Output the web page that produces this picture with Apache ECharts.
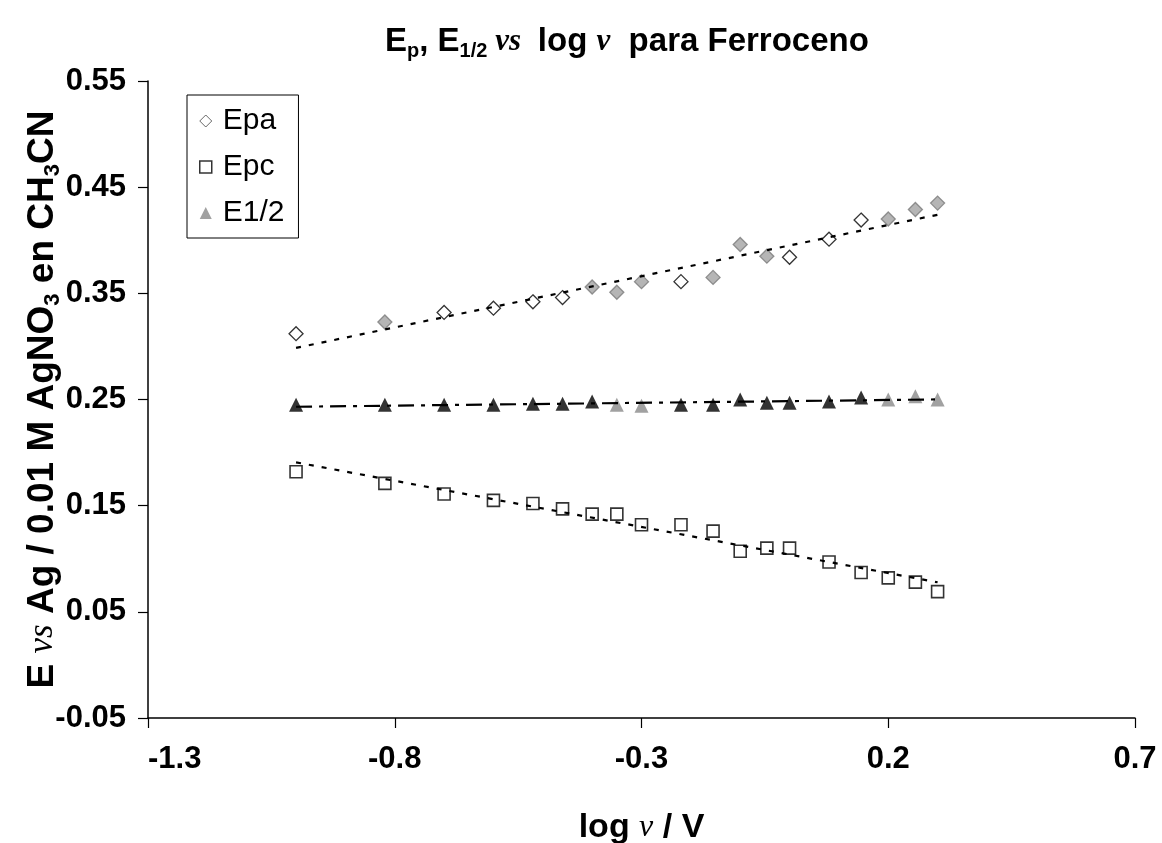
<!DOCTYPE html>
<html>
<head>
<meta charset="utf-8">
<script src="https://cdn.jsdelivr.net/npm/echarts@6/dist/echarts.min.js"></script>
<style>
  html, body { margin: 0; padding: 0; background: #fff; }
  #chart { width: 1162px; height: 843px; }
</style>
</head>
<body>
<div id="chart"></div>
<script>
// ---- data ----
const logV = [-1.0, -0.82, -0.70, -0.60, -0.52, -0.46, -0.40, -0.35, -0.30, -0.22, -0.155, -0.10, -0.046, 0.0, 0.08, 0.145, 0.20, 0.255, 0.30];
const epa  = [0.312, 0.323, 0.332, 0.336, 0.342, 0.346, 0.356, 0.351, 0.361, 0.361, 0.365, 0.396, 0.385, 0.384, 0.401, 0.419, 0.420, 0.429, 0.435];
const epc  = [0.182, 0.171, 0.161, 0.155, 0.152, 0.147, 0.142, 0.142, 0.132, 0.132, 0.126, 0.107, 0.110, 0.110, 0.097, 0.087, 0.082, 0.078, 0.069];
const e12  = [0.245, 0.245, 0.245, 0.245, 0.246, 0.246, 0.248, 0.245, 0.244, 0.245, 0.245, 0.250, 0.247, 0.247, 0.248, 0.252, 0.250, 0.253, 0.250];
const xTicks = [-1.3, -0.8, -0.3, 0.2, 0.7];
const yTicks = [-0.05, 0.05, 0.15, 0.25, 0.35, 0.45, 0.55];
const seriesNames = ['Epa', 'Epc', 'E1/2'];
// markers that appear grey-filled in the scanned figure (indices into the arrays)
const greyEpa = [1, 6, 7, 8, 10, 11, 12, 16, 17, 18];
const greyE12 = [7, 8, 16, 17, 18];

// ---- helpers ----
const SANS = "'Liberation Sans', Arial, sans-serif";
const SERIF = "'Liberation Serif', 'Times New Roman', serif";

function linFit(xs, ys) {
  const n = xs.length;
  let sx = 0, sy = 0, sxx = 0, sxy = 0;
  for (let i = 0; i < n; i++) { sx += xs[i]; sy += ys[i]; sxx += xs[i] * xs[i]; sxy += xs[i] * ys[i]; }
  const b = (n * sxy - sx * sy) / (n * sxx - sx * sx);
  const a = (sy - b * sx) / n;
  const x0 = Math.min(...xs), x1 = Math.max(...xs);
  return [[x0, a + b * x0], [x1, a + b * x1]];
}

function pts(ys, grey, greyStyle) {
  return logV.map((x, i) => {
    const d = { value: [x, ys[i]] };
    if (grey && grey.indexOf(i) >= 0) d.itemStyle = greyStyle;
    return d;
  });
}

function richSet(size) {
  return {
    b:   { fontFamily: SANS, fontWeight: 'bold', fontSize: size, color: '#000', lineHeight: size + 6 },
    sub: { fontFamily: SANS, fontWeight: 'bold', fontSize: Math.round(size * 0.6), color: '#000', verticalAlign: 'bottom' },
    it:  { fontFamily: SERIF, fontStyle: 'italic', fontSize: size - 2, color: '#000', lineHeight: size + 6 }
  };
}

const chart = echarts.init(document.getElementById('chart'), null, { renderer: 'canvas' });

const trendDash = [5, 8];

chart.setOption({
  backgroundColor: '#fff',
  animation: false,
  title: {
    text: '{b|E}{sub|p}{b|, E}{sub|1/2}{it| vs }{b| log }{it|ν}{b|  para Ferroceno}',
    left: 380,
    top: 17,
    textStyle: { rich: richSet(33) }
  },
  legend: {
    orient: 'vertical',
    left: 187,
    top: 95,
    padding: [11, 14, 10, 12],
    itemGap: 16,
    itemWidth: 12,
    itemHeight: 12,
    borderColor: '#000',
    borderWidth: 1,
    textStyle: { fontFamily: SANS, fontSize: 30, color: '#000', padding: [0, 0, 0, 6] },
    data: [
      { name: seriesNames[0], icon: 'diamond', itemStyle: { color: '#fff', borderColor: '#444', borderWidth: 1 } },
      { name: seriesNames[1], icon: 'rect', itemStyle: { color: '#fff', borderColor: '#000', borderWidth: 1.5 } },
      { name: seriesNames[2], icon: 'triangle', itemStyle: { color: '#8a8a8a', borderWidth: 0 } }
    ]
  },
  grid: { left: 148, right: 27, top: 81, bottom: 125, containLabel: false, outerBoundsMode: 'none' },
  xAxis: {
    type: 'value',
    min: -1.3,
    max: 0.7,
    name: '{b|log }{it|ν}{b| / V}',
    nameLocation: 'middle',
    nameGap: 90,
    nameTextStyle: { rich: richSet(34) },
    axisLine: { show: true, onZero: false, lineStyle: { color: '#000', width: 1.5 } },
    axisTick: { show: true, inside: false, length: 10, customValues: xTicks, lineStyle: { color: '#000', width: 1.2 } },
    axisLabel: {
      customValues: xTicks,
      formatter: v => v.toFixed(1),
      alignMinLabel: 'left',
      fontFamily: SANS, fontWeight: 'bold', fontSize: 31, color: '#000', margin: 26
    },
    splitLine: { show: false }
  },
  yAxis: {
    type: 'value',
    min: -0.05,
    max: 0.55,
    name: '{b|E }{it|vs}{b| Ag / 0.01 M AgNO}{sub|3}{b| en CH}{sub|3}{b|CN}',
    nameLocation: 'middle',
    nameGap: 84,
    nameMoveOverlap: false,
    nameTextStyle: { rich: richSet(37) },
    axisLine: { show: true, onZero: false, lineStyle: { color: '#000', width: 1.5 } },
    axisTick: { show: true, inside: false, length: 10, customValues: yTicks, lineStyle: { color: '#000', width: 1.2 } },
    axisLabel: {
      customValues: yTicks,
      formatter: v => v.toFixed(2),
      fontFamily: SANS, fontWeight: 'bold', fontSize: 31, color: '#000', margin: 22
    },
    splitLine: { show: false }
  },
  series: [
    {
      name: seriesNames[0], type: 'scatter', symbol: 'diamond', symbolSize: 14, z: 2,
      itemStyle: { color: '#fff', borderColor: '#000', borderWidth: 1.3 },
      data: pts(epa, greyEpa, { color: '#a3a3a3', borderColor: '#7a7a7a', borderWidth: 1.3 })
    },
    {
      name: seriesNames[1], type: 'scatter', symbol: 'rect', symbolSize: 12, z: 2,
      itemStyle: { color: '#fff', borderColor: '#000', borderWidth: 1.6 },
      data: pts(epc)
    },
    {
      name: seriesNames[2], type: 'scatter', symbol: 'triangle', symbolSize: 14, z: 2,
      itemStyle: { color: '#000', borderWidth: 0 },
      data: pts(e12, greyE12, { color: '#8a8a8a' })
    },
    {
      name: 'Epa fit', type: 'line', showSymbol: false, symbol: 'none', z: 3, silent: true,
      lineStyle: { color: '#000', width: 2.2, type: trendDash },
      data: linFit(logV, epa)
    },
    {
      name: 'Epc fit', type: 'line', showSymbol: false, symbol: 'none', z: 3, silent: true,
      lineStyle: { color: '#000', width: 2.2, type: trendDash },
      data: linFit(logV, epc)
    },
    {
      name: 'E1/2 fit', type: 'line', showSymbol: false, symbol: 'none', z: 3, silent: true,
      lineStyle: { color: '#000', width: 2.2, type: [16, 7, 4, 7] },
      data: linFit(logV, e12)
    }
  ]
});
</script>
</body>
</html>
